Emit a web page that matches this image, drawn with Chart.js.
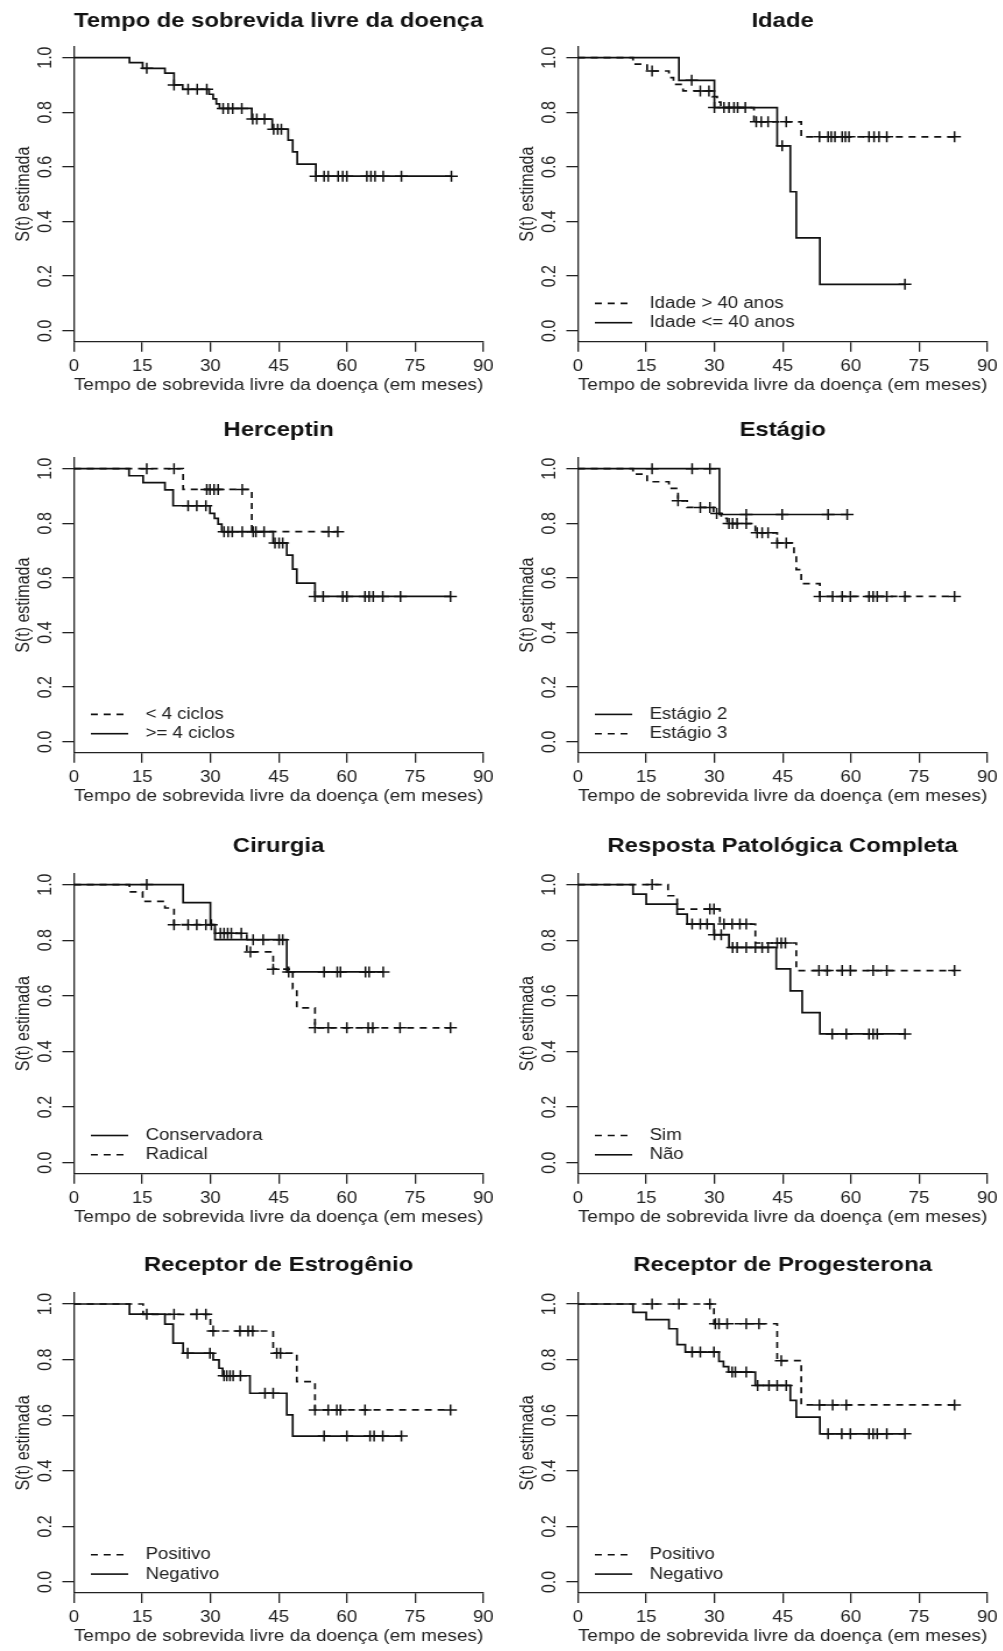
<!DOCTYPE html>
<html>
<head>
<meta charset="utf-8">
<script src="https://cdn.jsdelivr.net/npm/chart.js@4.4.1/dist/chart.umd.min.js"></script>
<style>
  html, body { margin: 0; padding: 0; background: #fff; }
  body { width: 1003px; height: 1651px; position: relative; overflow: hidden; }
  .painel { position: absolute; transform: scaleX(1.165); transform-origin: 0 0; }
</style>
</head>
<body>
<script>
// eixos
const xTicks = [0, 15, 30, 45, 60, 75, 90];
const yTicks = [0, 0.2, 0.4, 0.6, 0.8, 1.0];
const xTitulo = 'Tempo de sobrevida livre da doença (em meses)';
const yTitulo = 'S(t) estimada';

// Tempo de sobrevida livre da doença
const geralTempo = [0, 12.2, 15.1, 20, 22, 23.9, 29.7, 30.6, 31.3, 32, 39.1, 43.6, 47.1, 48.1, 49.1, 53.2];
const geralSobrev = [1, 0.982, 0.961, 0.943, 0.900, 0.884, 0.866, 0.849, 0.831, 0.814, 0.775, 0.738, 0.698, 0.655, 0.610, 0.566];
const geralCensura = [16, 22, 25.1, 27.1, 29.2, 32.8, 33.9, 34.9, 36.9, 39.3, 40.2, 41.9, 43.9, 44.8, 45.6, 53.2, 55, 55.9, 58.1, 59.1, 60, 64.4, 65.3, 66.2, 68, 72, 83];

// Idade
const idadeMaiorTempo = [0, 12.1, 15.2, 20, 21, 23.1, 29.5, 30.6, 31.4, 38.7, 49.1];
const idadeMaiorSobrev = [1, 0.976, 0.951, 0.927, 0.902, 0.878, 0.857, 0.837, 0.817, 0.765, 0.710];
const idadeMaiorCensura = [16.3, 26.9, 28.8, 32.1, 33.2, 34.3, 35.1, 36.8, 39.2, 40.3, 41.8, 45.8, 53.1, 55, 55.7, 56.5, 58.1, 58.8, 59.6, 64, 65.1, 66.2, 67.9, 82.8];
const idadeMenorTempo = [0, 22.2, 30, 43.8, 46.7, 48, 53.2];
const idadeMenorSobrev = [1, 0.917, 0.817, 0.677, 0.509, 0.340, 0.170];
const idadeMenorCensura = [25, 30, 44.9, 71.9];

// Herceptin
const hercMenosTempo = [0, 24, 39.1];
const hercMenosSobrev = [1, 0.924, 0.769];
const hercMenosCensura = [16, 22, 29.2, 29.9, 30.8, 31.7, 37, 56, 58];
const hercMaisTempo = [0, 12.1, 15.2, 20, 21.8, 29.9, 30.9, 31.7, 32.5, 43.8, 46.8, 48.1, 49, 53];
const hercMaisSobrev = [1, 0.974, 0.949, 0.922, 0.864, 0.836, 0.818, 0.797, 0.769, 0.728, 0.683, 0.632, 0.581, 0.532];
const hercMaisCensura = [25.1, 27, 29, 33, 33.9, 34.8, 37, 39.4, 40, 41.8, 44.2, 45.1, 45.9, 53, 54.8, 59.1, 60, 64, 64.9, 65.8, 67.9, 71.8, 82.8];

// Estágio
const est2Tempo = [0, 31.1];
const est2Sobrev = [1, 0.832];
const est2Censura = [16.3, 25.1, 29, 37, 44.9, 55, 59.2];
const est3Tempo = [0, 12.1, 15.2, 20, 22, 24, 29.8, 31.5, 32.8, 39, 43.8, 47.5, 48, 49.1, 53.2];
const est3Sobrev = [1, 0.980, 0.952, 0.928, 0.882, 0.858, 0.836, 0.818, 0.799, 0.765, 0.728, 0.680, 0.630, 0.579, 0.532];
const est3Censura = [22, 26.9, 29, 30.5, 33.2, 34, 35, 37, 39.4, 40.5, 41.8, 43.8, 45.8, 53.2, 56, 58.1, 59.9, 64, 64.9, 65.8, 67.9, 71.9, 82.8];

// Cirurgia
const consTempo = [0, 24, 30, 31, 46.8];
const consSobrev = [1, 0.935, 0.856, 0.802, 0.686];
const consCensura = [16, 39.4, 41.6, 45.1, 45.9, 47.2, 55, 57.9, 58.6, 64.1, 64.9, 68];
const radTempo = [0, 12.2, 15.1, 20, 22, 31, 38, 43.8, 48.1, 49, 53];
const radSobrev = [1, 0.974, 0.940, 0.916, 0.856, 0.825, 0.758, 0.696, 0.626, 0.557, 0.485];
const radCensura = [22, 25.1, 27, 29, 30.2, 32.2, 33, 33.8, 34.6, 36.8, 38.8, 43.8, 53, 55.9, 60, 64.7, 65.7, 71.7, 82.8];

// Resposta Patológica Completa
const simTempo = [0, 19.8, 21.8, 31.2, 39, 48];
const simSobrev = [1, 0.960, 0.912, 0.858, 0.790, 0.691];
const simCensura = [16.3, 29, 29.9, 32.1, 33.9, 35.6, 37, 43.8, 44.7, 45.6, 53, 54.8, 58.1, 59.9, 64.9, 67.9, 82.8];
const naoTempo = [0, 12.1, 15, 21.8, 24, 29.9, 33.2, 43.6, 46.7, 49.3, 53.2];
const naoSobrev = [1, 0.966, 0.930, 0.894, 0.858, 0.820, 0.774, 0.697, 0.618, 0.540, 0.463];
const naoCensura = [25.1, 26.9, 28.4, 30, 31.5, 34, 35, 37, 39, 40.5, 41.8, 55.9, 59, 64, 64.9, 65.8, 71.9];

// Receptor de Estrogênio
const posETempo = [0, 15.2, 30, 43.8, 49, 53];
const posESobrev = [1, 0.963, 0.903, 0.823, 0.721, 0.619];
const posECensura = [16, 22, 27, 29, 30.6, 36.5, 38.3, 39.3, 44.6, 45.4, 53, 55.9, 57.8, 58.6, 64, 82.8];
const negETempo = [0, 12.2, 20, 21.8, 24, 30.6, 31.9, 32.7, 38.7, 46.8, 48.1];
const negESobrev = [1, 0.964, 0.928, 0.859, 0.823, 0.799, 0.769, 0.742, 0.679, 0.601, 0.525];
const negECensura = [25, 29.9, 33, 33.6, 34.3, 35, 36.6, 42, 43.8, 55, 60, 65.1, 66, 67.9, 72];

// Receptor de Progesterona
const posPTempo = [0, 29.9, 43.8, 49.1];
const posPSobrev = [1, 0.929, 0.796, 0.637];
const posPCensura = [16.3, 22.2, 29, 30.2, 31, 32.8, 37, 39.8, 44.7, 53.1, 56, 59, 82.8];
const negPTempo = [0, 12.1, 15, 20, 21.8, 23.6, 31, 32, 33.1, 39, 46.7, 48, 53.2];
const negPSobrev = [1, 0.970, 0.944, 0.911, 0.854, 0.827, 0.794, 0.775, 0.755, 0.707, 0.653, 0.593, 0.533];
const negPCensura = [25.1, 26.9, 29.9, 33.9, 34.6, 37, 39.5, 42, 43.8, 45.8, 55, 58, 59.9, 64, 64.9, 65.8, 67.9, 71.9];

const FONTE = "'Liberation Sans', Arial, sans-serif";
Chart.defaults.font.family = FONTE;
Chart.defaults.color = '#222';

// layout (canvas is drawn narrower then stretched like the original image)
const LARG = 429;
const PLOT_ESQ = 63.5;
const PLOT_DIR = 414.8;
const colunas = [0, 504];
const linhas = [
  { top: 0,    h: 400, titleY: 21,   plotTop: 46.7, plotBottom: 341.7 },
  { top: 411,  h: 400, titleY: 19.5, plotTop: 46.7, plotBottom: 341.7 },
  { top: 825,  h: 407, titleY: 21.5, plotTop: 48.5, plotBottom: 348.8 },
  { top: 1245, h: 406, titleY: 20,   plotTop: 47.9, plotBottom: 348.1 }
];

function valorEm(tempos, sobrev, t) {
  let v = sobrev[0];
  for (let i = 0; i < tempos.length; i++) {
    if (tempos[i] <= t) v = sobrev[i];
  }
  return v;
}

function grupo(rotulo, tempos, sobrev, censura, tracejado) {
  const fim = Math.max(tempos[tempos.length - 1], censura[censura.length - 1]);
  const pontos = tempos.map((t, i) => ({ x: t, y: sobrev[i] }));
  pontos.push({ x: fim, y: sobrev[sobrev.length - 1] });
  return [
    {
      type: 'line', label: rotulo, naLegenda: !!rotulo, data: pontos, stepped: true,
      borderColor: '#111', borderWidth: 1.7, borderDash: tracejado ? [6, 5] : [],
      pointRadius: 0, fill: false
    },
    {
      type: 'scatter', data: censura.map(t => ({ x: t, y: valorEm(tempos, sobrev, t) })),
      showLine: false, pointStyle: 'cross', pointRadius: 5.5, pointHoverRadius: 5.5,
      borderColor: '#111', pointBorderWidth: 1.5
    }
  ];
}

const legendaKM = {
  id: 'legendaKM',
  afterDraw(chart) {
    const itens = chart.data.datasets.filter(d => d.naLegenda);
    const { left, bottom } = chart.chartArea;
    const ctx = chart.ctx;
    ctx.save();
    itens.forEach((d, i) => {
      const y = bottom - 38.3 + i * 19.3;
      ctx.beginPath();
      ctx.setLineDash(d.borderDash);
      ctx.strokeStyle = '#111';
      ctx.lineWidth = 1.6;
      ctx.moveTo(left + 14.5, y);
      ctx.lineTo(left + 46.5, y);
      ctx.stroke();
      ctx.setLineDash([]);
      ctx.fillStyle = '#222';
      ctx.font = '16px ' + FONTE;
      ctx.textBaseline = 'middle';
      ctx.textAlign = 'left';
      ctx.fillText(d.label, left + 61.4, y);
    });
    ctx.restore();
  }
};

function painel(idx, titulo, datasets) {
  const L = linhas[Math.floor(idx / 2)];
  const div = document.createElement('div');
  div.className = 'painel';
  div.style.left = colunas[idx % 2] + 'px';
  div.style.top = L.top + 'px';
  const cv = document.createElement('canvas');
  cv.width = LARG; cv.height = L.h;
  cv.style.width = LARG + 'px'; cv.style.height = L.h + 'px';
  div.appendChild(cv);
  document.body.appendChild(div);

  const grade = { drawOnChartArea: false, drawTicks: true, tickLength: 10, color: '#222', lineWidth: 1.3 };
  const borda = { display: true, color: '#222', width: 1.3 };

  new Chart(cv, {
    type: 'line',
    data: { datasets },
    options: {
      responsive: false,
      animation: false,
      devicePixelRatio: 1,
      layout: { padding: { left: 0, right: LARG - PLOT_DIR, top: 0, bottom: 0 } },
      plugins: {
        legend: { display: false },
        tooltip: { enabled: false },
        title: {
          display: true, text: titulo, fullSize: false, color: '#111',
          font: { size: 20.5, weight: 'bold' },
          padding: { top: L.titleY - 12.3, bottom: L.plotTop - L.titleY - 12.3 }
        }
      },
      scales: {
        x: {
          type: 'linear', min: 0, max: 90,
          afterBuildTicks: ax => { ax.ticks = xTicks.map(v => ({ value: v })); },
          afterFit: ax => { ax.height = L.h - L.plotBottom; },
          ticks: { font: { size: 16 }, padding: 4.9, color: '#222', maxRotation: 0, autoSkip: false, callback: v => String(v) },
          grid: grade, border: borda,
          title: { display: true, text: xTitulo, font: { size: 16.5 }, color: '#222', padding: { top: 0, bottom: 5 } }
        },
        y: {
          type: 'linear', min: -0.04, max: 1.04,
          afterBuildTicks: ax => { ax.ticks = yTicks.map(v => ({ value: v })); },
          afterFit: ax => { ax.width = PLOT_ESQ; },
          ticks: { font: { size: 16 }, padding: 2.5, color: '#222', minRotation: 90, maxRotation: 90, crossAlign: 'center', callback: v => v.toFixed(1) },
          grid: grade, border: borda,
          title: { display: true, text: yTitulo, font: { size: 16 }, color: '#222', padding: { top: 10.8, bottom: 0 } }
        }
      }
    },
    plugins: [legendaKM]
  });
}

painel(0, 'Tempo de sobrevida livre da doença',
  grupo('', geralTempo, geralSobrev, geralCensura, false));
painel(1, 'Idade', [
  ...grupo('Idade > 40 anos', idadeMaiorTempo, idadeMaiorSobrev, idadeMaiorCensura, true),
  ...grupo('Idade <= 40 anos', idadeMenorTempo, idadeMenorSobrev, idadeMenorCensura, false)]);
painel(2, 'Herceptin', [
  ...grupo('< 4 ciclos', hercMenosTempo, hercMenosSobrev, hercMenosCensura, true),
  ...grupo('>= 4 ciclos', hercMaisTempo, hercMaisSobrev, hercMaisCensura, false)]);
painel(3, 'Estágio', [
  ...grupo('Estágio 2', est2Tempo, est2Sobrev, est2Censura, false),
  ...grupo('Estágio 3', est3Tempo, est3Sobrev, est3Censura, true)]);
painel(4, 'Cirurgia', [
  ...grupo('Conservadora', consTempo, consSobrev, consCensura, false),
  ...grupo('Radical', radTempo, radSobrev, radCensura, true)]);
painel(5, 'Resposta Patológica Completa', [
  ...grupo('Sim', simTempo, simSobrev, simCensura, true),
  ...grupo('Não', naoTempo, naoSobrev, naoCensura, false)]);
painel(6, 'Receptor de Estrogênio', [
  ...grupo('Positivo', posETempo, posESobrev, posECensura, true),
  ...grupo('Negativo', negETempo, negESobrev, negECensura, false)]);
painel(7, 'Receptor de Progesterona', [
  ...grupo('Positivo', posPTempo, posPSobrev, posPCensura, true),
  ...grupo('Negativo', negPTempo, negPSobrev, negPCensura, false)]);
</script>
</body>
</html>
